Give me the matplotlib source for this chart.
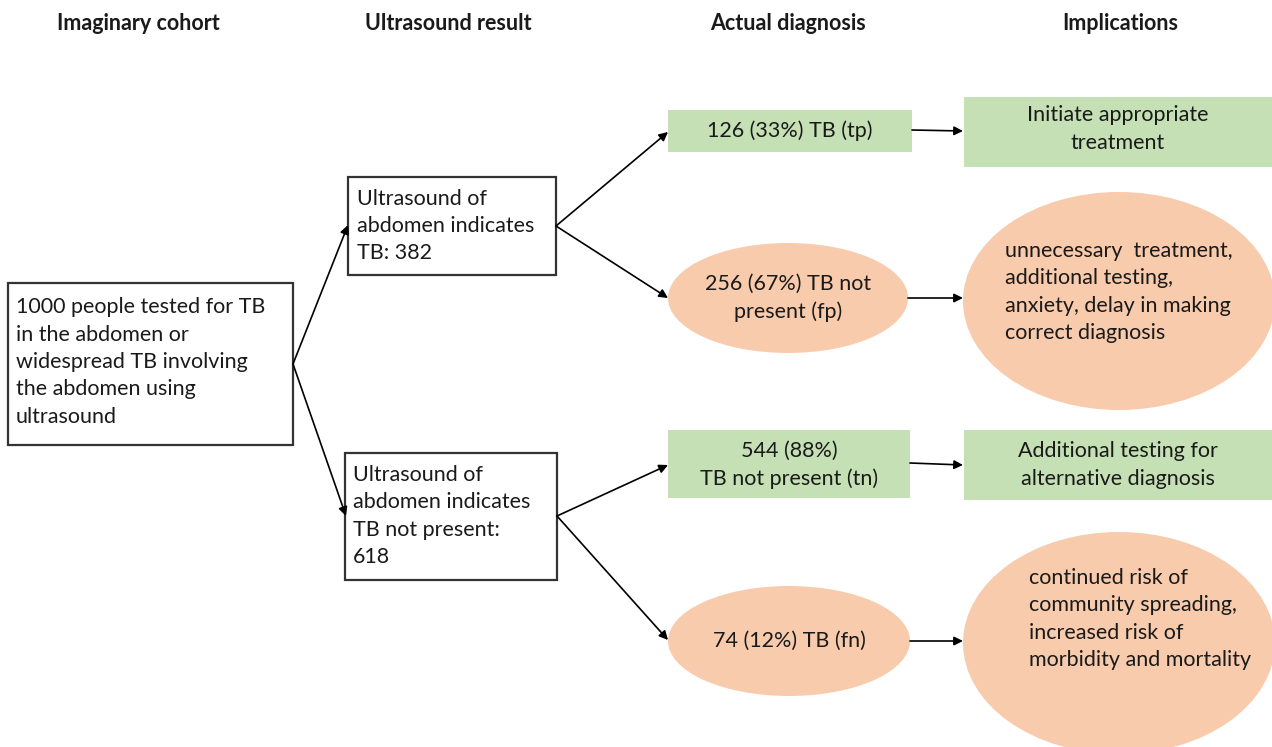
import matplotlib.pyplot as plt
from matplotlib.patches import Rectangle, Ellipse

# textos del diagrama
encabezados = ['Imaginary cohort', 'Ultrasound result', 'Actual diagnosis', 'Implications']
texto_cohorte = ('1000 people tested for TB\nin the abdomen or\nwidespread TB involving\n'
                 'the abdomen using\nultrasound')
texto_us = ['Ultrasound of\nabdomen indicates\nTB: 382',
            'Ultrasound of\nabdomen indicates\nTB not present:\n618']
texto_diag = ['126 (33%) TB (tp)', '256 (67%) TB not\npresent (fp)',
              '544 (88%)\nTB not present (tn)', '74 (12%) TB (fn)']
texto_impl = ['Initiate appropriate\ntreatment',
              'unnecessary  treatment,\nadditional testing,\nanxiety, delay in making\ncorrect diagnosis',
              'Additional testing for\nalternative diagnosis',
              'continued risk of\ncommunity spreading,\nincreased risk of\nmorbidity and mortality']

VERDE = '#c5e0b4'
SALMON = '#f8cbad'
FUENTE = 'Lato'
TAM = 15.5

fig = plt.figure(figsize=(12.72, 7.47), dpi=100)
ax = fig.add_axes([0, 0, 1, 1])
ax.set_xlim(0, 1272)
ax.set_ylim(747, 0)
ax.axis('off')


def caja(x0, y0, x1, y1, color='white', borde=True):
    ax.add_patch(Rectangle((x0, y0), x1 - x0, y1 - y0, facecolor=color,
                           edgecolor='#333333' if borde else 'none', lw=1.6))


def flecha(x0, y0, x1, y1):
    ax.annotate('', xy=(x1, y1), xytext=(x0, y0),
                arrowprops=dict(arrowstyle='-|>', color='black', lw=1.2,
                                mutation_scale=13, shrinkA=0, shrinkB=0))


def texto(x, y, s, ha='left'):
    ax.text(x, y, s, ha=ha, va='center', fontsize=TAM, family=FUENTE,
            color='#1a1a1a', linespacing=1.46, multialignment=ha)


# encabezados
for xc, h in zip([138, 448, 788, 1120], encabezados):
    ax.text(xc, 24, h, ha='center', va='center', fontsize=TAM, family=FUENTE,
            fontweight='bold', color='#1a1a1a')

# columna 1
caja(8, 283, 293, 445)
texto(16, 362, texto_cohorte)

# columna 2
caja(348, 177, 556, 275)
texto(357, 226, texto_us[0])
caja(345, 453, 557, 580)
texto(353, 516, texto_us[1])

# columna 3
caja(668, 110, 912, 152, VERDE, False)
texto(790, 131, texto_diag[0], 'center')
ax.add_patch(Ellipse((788, 298), 240, 110, facecolor=SALMON, edgecolor='none'))
texto(788, 298, texto_diag[1], 'center')
caja(668, 430, 910, 498, VERDE, False)
texto(789, 465, texto_diag[2], 'center')
ax.add_patch(Ellipse((789, 641), 242, 110, facecolor=SALMON, edgecolor='none'))
texto(789, 641, texto_diag[3], 'center')

# columna 4
caja(964, 97, 1272, 167, VERDE, False)
texto(1118, 129, texto_impl[0], 'center')
ax.add_patch(Ellipse((1119, 301), 312, 218, facecolor=SALMON, edgecolor='none'))
texto(1005, 292, texto_impl[1])
caja(964, 430, 1272, 500, VERDE, False)
texto(1118, 465, texto_impl[2], 'center')
ax.add_patch(Ellipse((1119, 643), 312, 222, facecolor=SALMON, edgecolor='none'))
texto(1029, 619, texto_impl[3])

# flechas
flecha(293, 364, 348, 225)
flecha(293, 364, 346, 516)
flecha(556, 226, 668, 132)
flecha(556, 226, 668, 298)
flecha(557, 516, 668, 465)
flecha(557, 516, 668, 640)
flecha(912, 130, 963, 131)
flecha(908, 298, 963, 298)
flecha(910, 463, 963, 465)
flecha(910, 641, 963, 641)

fig.savefig('out.png', dpi=100)
